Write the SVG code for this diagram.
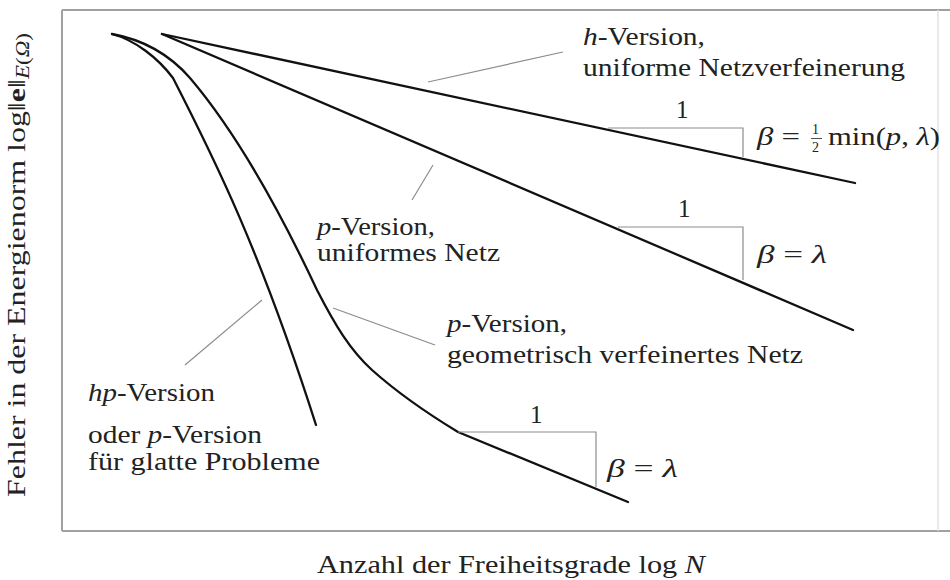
<svg xmlns="http://www.w3.org/2000/svg" width="950" height="580" viewBox="0 0 950 580">
<style>
text{font-family:'Liberation Serif','Times New Roman','DejaVu Serif',serif;font-size:25px;fill:#222}
.it{font-style:italic}
.frac{font-size:14px}
.curve{fill:none;stroke:#111;stroke-width:2.3;stroke-linejoin:round;stroke-linecap:round}
.thin{fill:none;stroke:#8c8c8c;stroke-width:1.2}
.frame{fill:none;stroke:#a0a0a0;stroke-width:2}
</style>
<rect width="950" height="580" fill="#ffffff"/>
<g id="frame">
<line class="frame" x1="62" y1="10" x2="950" y2="10"/>
<line class="frame" x1="62" y1="531" x2="950" y2="531"/>
<line class="frame" x1="62" y1="10" x2="62" y2="531"/>
<line x1="938" y1="10" x2="938" y2="531" stroke="#e2e2e2" stroke-width="1.5"/>
</g>
<g id="axis-labels">
<text x="317" y="573" textLength="388" lengthAdjust="spacingAndGlyphs">Anzahl der Freiheitsgrade log <tspan class="it">N</tspan></text>
<text transform="translate(25,497) rotate(-90)" x="0" y="0" textLength="464" lengthAdjust="spacingAndGlyphs">Fehler in der Energienorm log‖<tspan font-weight="bold">e</tspan>‖<tspan class="it" font-size="18" dy="4">E</tspan><tspan font-size="18">(<tspan class="it">Ω</tspan>)</tspan></text>
</g>
<g id="connectors">
<path id="h-line" class="curve" d="M162,34 L855,183"/>
<path id="p-uniform-line" class="curve" d="M162,34 L853,330"/>
<path id="p-geometric-curve" class="curve" d="M112,34 C145,40 170,55 190,78 C230,125 270,190 317,290 C335,325 350,350 372,370 C400,395 430,415 458,432 L628,502"/>
<path id="hp-curve" class="curve" d="M112,34 C135,40 158,58 173,78 C215,160 260,250 316,425"/>
<line class="thin" x1="428" y1="82" x2="563" y2="52"/>
<line class="thin" x1="433" y1="165" x2="412" y2="200"/>
<line class="thin" x1="262" y1="300" x2="185" y2="365"/>
<line class="thin" x1="333" y1="308" x2="435" y2="345"/>
</g>
<g id="slope-h">
<polyline class="thin" points="608,128 743,128 743,157"/>
<text x="676" y="118">1</text>
<text x="757" y="145" textLength="43" lengthAdjust="spacingAndGlyphs"><tspan class="it">β</tspan> =</text>
<text class="frac" x="812" y="134">1</text>
<line x1="811" y1="138.5" x2="822" y2="138.5" stroke="#222" stroke-width="0.8"/>
<text class="frac" x="812" y="152">2</text>
<text x="828" y="145" textLength="112" lengthAdjust="spacingAndGlyphs">min(<tspan class="it">p</tspan>, <tspan class="it">λ</tspan>)</text>
</g>
<g id="slope-p-uniform">
<polyline class="thin" points="618,227 743,227 743,280"/>
<text x="678" y="217">1</text>
<text x="757" y="263" textLength="70" lengthAdjust="spacingAndGlyphs"><tspan class="it">β</tspan> = <tspan class="it">λ</tspan></text>
</g>
<g id="slope-p-geometric">
<polyline class="thin" points="458,432 596,432 596,487"/>
<text x="530" y="423">1</text>
<text x="607" y="477" textLength="71" lengthAdjust="spacingAndGlyphs"><tspan class="it">β</tspan> = <tspan class="it">λ</tspan></text>
</g>
<g id="label-h">
<text x="583" y="45" textLength="122" lengthAdjust="spacingAndGlyphs"><tspan class="it">h</tspan>-Version,</text>
<text x="583" y="76" textLength="322" lengthAdjust="spacingAndGlyphs">uniforme Netzverfeinerung</text>
</g>
<g id="label-p-uniform">
<text x="317" y="235" textLength="118" lengthAdjust="spacingAndGlyphs"><tspan class="it">p</tspan>-Version,</text>
<text x="317" y="261" textLength="183" lengthAdjust="spacingAndGlyphs">uniformes Netz</text>
</g>
<g id="label-p-geometric">
<text x="447" y="332" textLength="120" lengthAdjust="spacingAndGlyphs"><tspan class="it">p</tspan>-Version,</text>
<text x="447" y="363" textLength="356" lengthAdjust="spacingAndGlyphs">geometrisch verfeinertes Netz</text>
</g>
<g id="label-hp">
<text x="88" y="401" textLength="127" lengthAdjust="spacingAndGlyphs"><tspan class="it">hp</tspan>-Version</text>
<text x="88" y="443" textLength="174" lengthAdjust="spacingAndGlyphs">oder <tspan class="it">p</tspan>-Version</text>
<text x="88" y="470" textLength="232" lengthAdjust="spacingAndGlyphs">für glatte Probleme</text>
</g>
</svg>
